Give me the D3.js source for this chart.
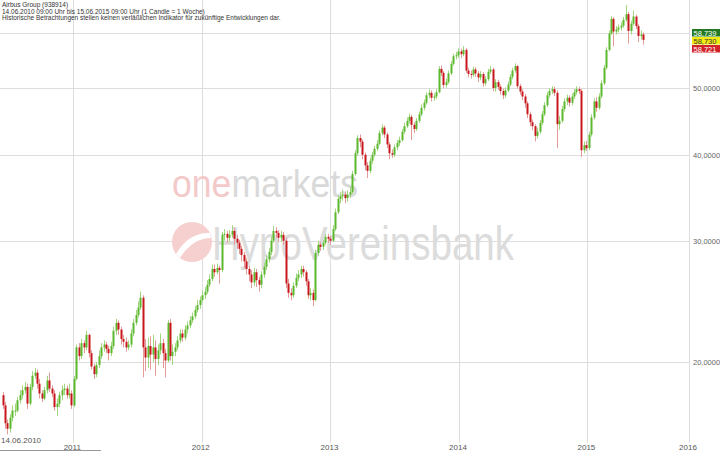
<!DOCTYPE html>
<html>
<head>
<meta charset="utf-8">
<script src="https://cdn.jsdelivr.net/npm/d3@7"></script>
<style>
  html, body { margin: 0; padding: 0; background: #fff; }
  svg { display: block; font-family: "Liberation Sans", Arial, sans-serif; }
</style>
</head>
<body>
<svg id="chart" width="720" height="451"></svg>
<script>
// weekly candles, 14.06.2010 .. 15.06.2015
const startWeek = new Date(2010, 5, 14)
const firstOpen = 17.9
const closes = [
  17.3, 16.3, 16.0, 16.6, 17.0, 17.0, 17.6, 17.9, 18.2, 18.4,
  17.4, 18.4, 19.1, 19.3, 18.6, 18.0, 17.7, 18.2, 18.8, 18.3,
  18.0, 17.2, 17.4, 17.9, 18.2, 18.3, 17.9, 18.0, 17.3, 18.9,
  21.0, 20.4, 21.3, 21.0, 21.9, 20.6, 19.7, 19.2, 19.8, 20.4,
  21.0, 21.2, 20.9, 20.6, 21.1, 22.2, 22.8, 22.3, 21.6, 21.4,
  21.0, 21.2, 22.0, 22.8, 23.4, 24.0, 24.8, 21.0, 20.3, 21.1,
  20.5, 21.0, 20.2, 20.8, 21.3, 20.6, 20.1, 22.8, 20.4, 20.7,
  21.0, 21.5, 22.0, 21.7, 22.3, 22.6, 23.0, 23.3, 23.8, 24.2,
  24.6, 25.0, 25.3, 25.9, 26.4, 27.3, 27.0, 27.4, 27.2, 30.6,
  30.7, 30.3, 30.6, 31.0, 30.2, 29.8, 29.2, 28.6, 28.0, 27.3,
  26.8, 26.1, 27.0, 26.3, 25.9, 26.8, 27.5, 28.2, 28.9, 30.0,
  31.0, 30.8, 30.3, 30.6, 30.0, 26.0, 25.2, 25.0, 25.8, 26.5,
  26.8, 27.3, 27.0, 26.2, 25.0, 25.2, 24.6, 28.8, 29.6, 29.4,
  29.8, 30.4, 30.2, 30.0, 31.2, 33.0, 34.5, 34.8, 35.0, 34.6,
  35.0, 35.3, 37.5, 40.2, 42.3, 41.8, 40.0, 38.6, 37.9, 39.2,
  40.0, 40.8, 41.5, 43.0, 43.8, 42.8, 41.4, 40.2, 40.0, 41.0,
  41.6, 42.0, 43.2, 44.0, 44.8, 45.4, 44.2, 43.6, 44.8, 45.8,
  46.8, 47.6, 48.8, 49.2, 48.4, 48.6, 49.3, 53.3, 52.6, 50.5,
  51.0, 52.5, 54.2, 55.6, 55.8, 56.5, 56.0, 56.8, 53.0, 52.4,
  52.3, 53.2, 52.5, 51.8, 52.4, 50.8, 51.5, 52.8, 53.2, 50.0,
  51.0, 50.2, 49.5, 48.8, 49.6, 50.6, 51.9, 53.0, 53.8, 50.3,
  49.4, 48.6, 47.5, 45.8, 44.6, 44.0, 42.6, 43.2, 44.5, 45.8,
  47.2, 48.8, 49.5, 49.8, 49.2, 44.3, 44.8, 46.6, 47.8, 48.4,
  47.6, 48.6, 49.3, 49.8, 49.5, 40.6, 41.3, 40.9, 42.8, 45.3,
  47.8, 46.8, 48.6, 50.8, 53.5, 56.8, 60.0, 63.0, 60.4, 60.8,
  61.2, 61.6, 62.8, 64.0, 60.5, 62.0, 63.5, 61.5, 59.5, 59.8,
  58.73
]
const highs = [
  18.1, 17.5, 16.5, 16.8, 17.3, 17.4, 17.8, 18.2, 18.5, 18.7,
  18.6, 18.6, 19.4, 19.6, 19.5, 18.9, 18.2, 18.4, 19.1, 19.3,
  18.5, 18.2, 17.7, 18.1, 18.5, 18.6, 18.5, 18.6, 18.2, 19.1,
  21.2, 21.3, 21.6, 21.5, 22.2, 22.0, 20.8, 19.9, 20.0, 20.8,
  21.3, 21.5, 21.4, 21.1, 21.4, 22.5, 23.1, 23.0, 22.5, 21.9,
  21.7, 21.5, 22.3, 23.1, 23.8, 24.5, 25.3, 25.0, 21.6, 21.7,
  21.8, 21.9, 21.5, 21.2, 22.0, 21.6, 20.9, 23.0, 23.1, 21.2,
  21.3, 21.8, 22.3, 22.3, 22.6, 22.9, 23.3, 23.6, 24.1, 24.6,
  24.9, 25.4, 25.7, 26.3, 26.8, 27.7, 27.7, 27.8, 27.6, 30.9,
  31.2, 31.0, 31.1, 31.6, 31.3, 30.6, 30.1, 29.5, 28.9, 28.3,
  27.6, 27.2, 27.4, 27.3, 26.6, 27.1, 27.9, 28.6, 29.3, 30.4,
  31.5, 31.4, 31.1, 31.0, 30.9, 30.3, 26.4, 25.6, 26.1, 26.9,
  27.2, 27.6, 27.6, 27.2, 26.4, 25.6, 25.5, 29.1, 30.0, 29.9,
  30.1, 30.7, 30.7, 30.5, 31.6, 33.4, 34.9, 35.3, 35.6, 35.4,
  35.5, 35.9, 37.9, 40.6, 42.7, 42.8, 42.1, 40.3, 39.0, 39.6,
  40.4, 41.2, 42.0, 43.4, 44.3, 44.1, 43.1, 41.7, 40.7, 41.4,
  42.0, 42.5, 43.6, 44.5, 45.3, 45.9, 45.7, 44.6, 45.2, 46.2,
  47.3, 48.1, 49.3, 49.8, 49.6, 49.1, 49.8, 53.8, 53.9, 52.9,
  51.6, 53.0, 54.7, 56.1, 56.4, 57.1, 57.0, 57.5, 57.2, 53.5,
  53.0, 53.7, 53.6, 52.9, 52.9, 52.7, 52.0, 53.3, 53.8, 53.5,
  51.5, 51.4, 50.6, 49.9, 50.1, 51.1, 52.4, 53.5, 54.3, 54.0,
  50.7, 49.8, 49.0, 47.8, 46.2, 45.0, 44.3, 43.8, 44.9, 46.3,
  47.7, 49.3, 50.0, 50.3, 50.2, 49.6, 45.5, 47.1, 48.3, 48.9,
  48.8, 49.1, 49.8, 50.3, 50.2, 49.8, 41.8, 41.9, 43.2, 45.8,
  48.3, 48.5, 49.1, 51.3, 54.0, 57.3, 60.6, 63.6, 63.4, 61.5,
  61.8, 62.3, 63.4, 66.0, 64.5, 62.6, 64.8, 63.9, 61.9, 60.6,
  60.2
]
const lows = [
  17.1, 16.0, 15.7, 15.8, 16.4, 16.7, 16.9, 17.4, 17.7, 18.0,
  17.1, 17.3, 18.2, 18.9, 18.3, 17.7, 17.5, 17.6, 18.0, 18.1,
  17.8, 17.0, 16.7, 17.2, 17.6, 17.9, 17.7, 17.7, 17.1, 17.2,
  18.8, 20.1, 20.2, 20.6, 20.8, 20.3, 19.5, 18.9, 19.0, 19.6,
  20.2, 20.7, 20.6, 20.1, 20.4, 20.9, 21.9, 21.9, 21.2, 21.0,
  20.7, 20.8, 21.0, 21.8, 22.6, 23.2, 23.8, 19.0, 19.4, 19.6,
  19.5, 20.0, 19.1, 19.8, 20.5, 19.6, 19.0, 20.0, 20.1, 19.8,
  20.4, 20.8, 21.3, 21.4, 21.5, 22.0, 22.4, 22.8, 23.1, 23.6,
  23.9, 24.4, 24.7, 25.1, 25.7, 26.2, 26.6, 26.8, 26.0, 27.0,
  30.0, 29.8, 29.9, 30.3, 29.6, 29.2, 28.7, 28.0, 27.4, 26.8,
  26.2, 25.6, 25.8, 25.7, 25.3, 25.6, 26.5, 27.2, 27.9, 28.6,
  29.8, 30.3, 29.9, 29.9, 29.6, 25.6, 24.8, 24.6, 24.8, 25.6,
  26.2, 26.5, 26.6, 25.8, 24.7, 24.6, 24.1, 24.5, 28.5, 29.0,
  29.1, 29.6, 29.8, 29.6, 29.9, 31.0, 32.8, 34.0, 34.3, 34.0,
  34.2, 34.6, 35.1, 37.3, 39.9, 41.0, 39.4, 38.0, 37.0, 37.6,
  38.8, 39.7, 40.5, 41.3, 42.7, 42.3, 40.9, 39.4, 39.6, 39.7,
  40.6, 41.2, 41.8, 42.9, 43.7, 44.4, 42.0, 43.0, 43.3, 44.5,
  45.5, 46.4, 47.3, 48.3, 47.8, 47.9, 48.2, 49.1, 52.0, 50.0,
  50.1, 50.7, 52.2, 53.9, 55.0, 55.3, 55.3, 55.6, 52.6, 51.8,
  51.6, 51.9, 51.9, 51.0, 51.3, 50.2, 50.4, 51.2, 52.4, 49.5,
  49.4, 49.7, 48.9, 48.2, 48.4, 49.3, 50.3, 51.5, 52.6, 49.9,
  48.9, 48.0, 46.8, 45.2, 44.0, 43.4, 41.8, 42.2, 42.9, 44.2,
  45.5, 46.9, 48.4, 49.0, 48.7, 40.9, 43.5, 44.5, 46.2, 47.2,
  47.0, 47.2, 48.2, 48.9, 49.0, 39.7, 40.2, 40.5, 40.6, 42.5,
  45.0, 46.2, 46.5, 48.3, 50.5, 53.2, 56.5, 59.7, 57.5, 59.8,
  60.2, 60.6, 61.2, 62.4, 58.0, 59.8, 61.6, 60.9, 58.3, 58.8,
  57.8
]
const priceGrid = [20, 30, 40, 50, 60]
const yearTicks = [2011, 2012, 2013, 2014, 2015, 2016]
const quoteLabels = ['58,739', '58,730', '58,721']
const quoteColors = ['#217a21', '#f3ea12', '#d2232a']
const headerLines = [
  'Airbus Group (938914)',
  '14.06.2010 09:00 Uhr bis 15.06.2015 09:00 Uhr (1 Candle = 1 Woche)',
  'Historische Betrachtungen stellen keinen verläßlichen Indikator für zukünftige Entwicklungen dar.'
]

const svg = d3.select('#chart')
const plotRight = 689

const candles = closes.map((c, i) => ({
  date: d3.timeWeek.offset(startWeek, i),
  open: i === 0 ? firstOpen : closes[i - 1],
  high: highs[i],
  low: lows[i],
  close: c
}))

const x = d3.scaleTime()
  .domain([startWeek, candles[candles.length - 1].date, new Date(2016, 0, 1)])
  .range([2.5, 643, plotRight])
const y = d3.scaleLog().domain([20, 50]).range([362, 88])

const de = d3.formatLocale({ decimal: ',', thousands: '.', grouping: [3], currency: ['', '€'] })
const fmtAxis = de.format('.4f')

// grid
const grid = svg.append('g')
grid.selectAll('line.h').data(priceGrid).join('line')
  .attr('x1', 0).attr('x2', plotRight)
  .attr('y1', d => Math.round(y(d)) + 0.5).attr('y2', d => Math.round(y(d)) + 0.5)
  .attr('stroke', '#dedede')
grid.selectAll('line.v').data(yearTicks).join('line')
  .attr('x1', d => Math.round(x(new Date(d, 0, 1))) + 0.5)
  .attr('x2', d => Math.round(x(new Date(d, 0, 1))) + 0.5)
  .attr('y1', 0).attr('y2', 443)
  .attr('stroke', '#dedede')

// watermark
const wm = svg.append('g')
wm.append('text').attr('x', 172).attr('y', 197)
  .attr('font-size', 38).attr('textLength', 186).attr('lengthAdjust', 'spacingAndGlyphs')
  .call(t => {
    t.append('tspan').attr('fill', '#f4c9c9').text('one')
    t.append('tspan').attr('fill', '#d9d9d9').text('markets')
  })
wm.append('circle').attr('cx', 192).attr('cy', 242).attr('r', 20).attr('fill', '#f6cfcf')
wm.append('path')
  .attr('d', 'M176,254 C184,240 196,232 210,233 L211,238 C199,238 188,245 180,258 Z')
  .attr('fill', '#fff')
wm.append('text').attr('x', 212).attr('y', 260)
  .attr('font-size', 48).attr('fill', '#dcdcdc')
  .attr('textLength', 302).attr('lengthAdjust', 'spacingAndGlyphs')
  .text('HypoVereinsbank')

// candles
const bw = 2
const cg = svg.append('g')
cg.selectAll('line.wick').data(candles).join('line')
  .attr('x1', d => Math.round(x(d.date)) + 0.5)
  .attr('x2', d => Math.round(x(d.date)) + 0.5)
  .attr('y1', d => y(d.high)).attr('y2', d => y(d.low))
  .attr('stroke', d => d.close >= d.open ? '#9fd67e' : '#e59a9a')
  .attr('stroke-width', 1)
cg.selectAll('rect.body').data(candles).join('rect')
  .attr('x', d => Math.round(x(d.date)) - 0.5)
  .attr('width', bw)
  .attr('y', d => y(Math.max(d.open, d.close)))
  .attr('height', d => Math.max(1, Math.abs(y(d.open) - y(d.close))))
  .attr('fill', d => d.close >= d.open ? '#5cb82c' : '#c8161d')

// current quote
const last = candles[candles.length - 1]
const qy = y(last.close)

// right axis labels (the one under the quote boxes is hidden, as in the original)
svg.append('g').selectAll('text')
  .data(priceGrid.filter(d => Math.abs(y(d) - qy) > 14))
  .join('text')
  .attr('x', 693).attr('y', d => y(d) + 3)
  .attr('font-size', 7.5).attr('fill', '#666')
  .text(d => fmtAxis(d))

const qg = svg.append('g').selectAll('g').data(quoteLabels).join('g')
  .attr('transform', (d, i) => `translate(692,${Math.round(qy) - 11 + i * 8})`)
qg.append('rect').attr('width', 28).attr('height', 7.5)
  .attr('fill', (d, i) => quoteColors[i])
qg.append('text').attr('x', 1.5).attr('y', 6.5).attr('font-size', 7.5)
  .attr('fill', (d, i) => i === 1 ? '#333' : '#fff')
  .text(d => d)

// bottom axis
svg.append('g').selectAll('text').data(yearTicks).join('text')
  .attr('x', d => x(new Date(d, 0, 1)) - 1).attr('y', 450)
  .attr('text-anchor', 'middle').attr('font-size', 8).attr('fill', '#555')
  .text(d => d)
svg.append('text').attr('x', 1).attr('y', 443)
  .attr('font-size', 8).attr('fill', '#555')
  .text(d3.timeFormat('%d.%m.%Y')(startWeek))
svg.append('line').attr('x1', 0).attr('x2', 101).attr('y1', 450.5).attr('y2', 450.5)
  .attr('stroke', '#999')

// header
svg.append('g').selectAll('text').data(headerLines).join('text')
  .attr('x', 2).attr('y', (d, i) => 7 + i * 6.5)
  .attr('font-size', 6.5).attr('fill', '#333')
  .text(d => d)
</script>
</body>
</html>
